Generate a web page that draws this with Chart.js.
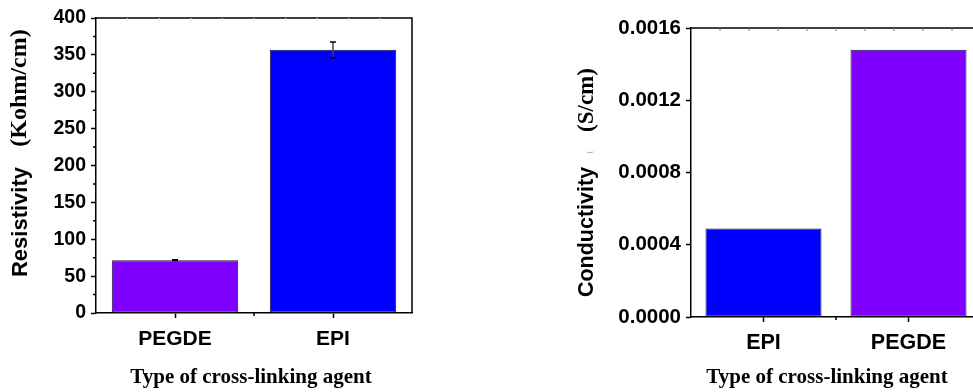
<!DOCTYPE html>
<html>
<head>
<meta charset="utf-8">
<script src="https://cdn.jsdelivr.net/npm/chart.js@4.4.1/dist/chart.umd.min.js"></script>
<style>
  html, body { margin: 0; padding: 0; background: #fff; overflow: hidden; width: 973px; height: 392px; }
  #left { position: absolute; left: 0; top: 0; }
  #right { position: absolute; left: 480px; top: 0; }
</style>
</head>
<body>
<canvas id="left" width="480" height="392"></canvas>
<canvas id="right" width="520" height="392"></canvas>
<script>
// left panel: resistivity
const resCategories = ['PEGDE', 'EPI'];
const resValues = [71.6, 356.8];
const resErrors = [0.5, 10.6];
const resTicks = [0, 50, 100, 150, 200, 250, 300, 350, 400];

// right panel: conductivity
const condCategories = ['EPI', 'PEGDE'];
const condValues = [0.00049, 0.00148];
const condTicks = [0, 0.0004, 0.0008, 0.0012, 0.0016];

const PURPLE = '#8000ff';
const BLUE = '#0000ff';
const SANS = "'Liberation Sans', Arial, sans-serif";
const SERIF = "'Liberation Serif', 'Times New Roman', serif";

// frame, minor ticks, error bars, titles
function decoPlugin(cfg) {
  return {
    id: 'deco',
    afterDatasetsDraw(chart) {
      if (!cfg.errors) return;
      const ctx = chart.ctx;
      const y = chart.scales.y;
      const meta = chart.getDatasetMeta(0);
      ctx.save();
      ctx.lineWidth = 1.5;
      meta.data.forEach((bar, i) => {
        const v = chart.data.datasets[0].data[i];
        const e = cfg.errors[i];
        const yt = y.getPixelForValue(v + e);
        const yb = y.getPixelForValue(v - e);
        ctx.strokeStyle = '#444';
        ctx.beginPath();
        ctx.moveTo(bar.x, yt); ctx.lineTo(bar.x, yb);
        ctx.stroke();
        ctx.strokeStyle = '#000';
        ctx.beginPath();
        ctx.moveTo(bar.x - 3, yt); ctx.lineTo(bar.x + 3, yt);
        ctx.moveTo(bar.x - 3, yb); ctx.lineTo(bar.x + 3, yb);
        ctx.stroke();
      });
      ctx.restore();
    },
    afterDraw(chart) {
      const ctx = chart.ctx;
      const a = chart.chartArea;
      const {x, y} = chart.scales;
      ctx.save();
      // top and right frame
      ctx.strokeStyle = '#000';
      ctx.lineWidth = 1.5;
      ctx.beginPath();
      ctx.moveTo(a.left, a.top);
      ctx.lineTo(a.right, a.top);
      ctx.lineTo(a.right, a.bottom);
      ctx.stroke();
      // faint ticks under the top line
      ctx.strokeStyle = cfg.topTickColor;
      ctx.lineWidth = 1;
      ctx.beginPath();
      for (let k = 1; k < 10; k++) {
        const px = a.left + (a.right - a.left) * k / 10;
        ctx.moveTo(px, a.top); ctx.lineTo(px, a.top + 3);
      }
      ctx.stroke();
      // minor ticks
      ctx.strokeStyle = '#000';
      ctx.lineWidth = 1.5;
      ctx.beginPath();
      if (cfg.minorY) {
        const t = cfg.ticks;
        for (let k = 0; k < t.length - 1; k++) {
          const py = y.getPixelForValue((t[k] + t[k + 1]) / 2);
          ctx.moveTo(a.left, py); ctx.lineTo(a.left - 3, py);
        }
      }
      for (let k = 0; k < chart.data.labels.length - 1; k++) {
        const px = (x.getPixelForValue(k) + x.getPixelForValue(k + 1)) / 2;
        ctx.moveTo(px, a.bottom); ctx.lineTo(px, a.bottom + 3);
      }
      ctx.stroke();
      // axis titles
      ctx.fillStyle = '#000';
      ctx.textAlign = 'center';
      ctx.textBaseline = 'alphabetic';
      ctx.font = 'bold 21px ' + SERIF;
      ctx.fillText('Type of cross-linking agent', cfg.xTitle[0], cfg.xTitle[1]);
      cfg.yParts.forEach(p => {
        ctx.save();
        ctx.translate(p.x, p.y);
        ctx.rotate(-Math.PI / 2);
        ctx.font = p.font;
        ctx.fillStyle = p.color || '#000';
        ctx.fillText(p.text, 0, 0);
        ctx.restore();
      });
      ctx.restore();
    }
  };
}

function barOptions(o) {
  return {
    responsive: false,
    animation: false,
    layout: { padding: { top: o.top, right: o.right, left: 0, bottom: 0 } },
    plugins: { legend: { display: false }, tooltip: { enabled: false } },
    scales: {
      x: {
        grid: { offset: false, drawOnChartArea: false, tickLength: 5, tickWidth: 1.5, tickColor: '#000' },
        border: { color: '#000', width: 1.5 },
        ticks: { color: '#000', padding: o.xPad, font: { family: SANS, size: o.xFont, weight: 'bold' } },
        afterFit: s => { s.height = o.xHeight; }
      },
      y: {
        min: o.ticks[0],
        max: o.ticks[o.ticks.length - 1],
        afterBuildTicks: s => { s.ticks = o.ticks.map(v => ({ value: v })); },
        grid: { drawOnChartArea: false, tickLength: 5, tickWidth: 1.5, tickColor: '#000' },
        border: { color: '#000', width: 1.5 },
        ticks: { color: '#000', padding: 5, font: { family: SANS, size: o.yFont, weight: 'bold' }, callback: o.fmt },
        afterFit: s => { s.width = o.yWidth; }
      }
    }
  };
}

new Chart(document.getElementById('left'), {
  type: 'bar',
  data: {
    labels: resCategories,
    datasets: [{
      data: resValues,
      backgroundColor: [PURPLE, BLUE],
      borderColor: '#1b1b3a',
      borderWidth: 1,
      borderSkipped: false,
      barPercentage: 0.8,
      categoryPercentage: 1
    }]
  },
  options: barOptions({
    top: 18, right: 68, xHeight: 79, yWidth: 96, xPad: 9, xFont: 21, yFont: 19.5,
    ticks: resTicks, fmt: v => String(v)
  }),
  plugins: [decoPlugin({
    errors: resErrors, ticks: resTicks, minorY: true, topTickColor: '#ddd',
    xTitle: [251, 383],
    yParts: [
      { text: 'Resistivity', x: 27, y: 222, font: 'bold 22px ' + SANS },
      { text: '(Kohm/cm)', x: 26, y: 88, font: 'bold 24px ' + SERIF }
    ]
  })]
});

new Chart(document.getElementById('right'), {
  type: 'bar',
  data: {
    labels: condCategories,
    datasets: [{
      data: condValues,
      backgroundColor: [BLUE, PURPLE],
      borderColor: '#1b1b3a',
      borderWidth: 1,
      borderSkipped: false,
      barPercentage: 0.8,
      categoryPercentage: 1
    }]
  },
  options: barOptions({
    top: 28, right: 19, xHeight: 75, yWidth: 211, xPad: 8, xFont: 21.5, yFont: 20.5,
    ticks: condTicks, fmt: v => v.toFixed(4)
  }),
  plugins: [decoPlugin({
    ticks: condTicks, minorY: false, topTickColor: '#777',
    xTitle: [347, 383],
    yParts: [
      { text: 'Conductivity', x: 113, y: 232, font: 'bold 21.5px ' + SANS },
      { text: '(', x: 112, y: 152, font: '9px ' + SERIF, color: '#aaa' },
      { text: '(S/cm)', x: 113, y: 100, font: 'bold 23px ' + SERIF }
    ]
  })]
});
</script>
</body>
</html>
